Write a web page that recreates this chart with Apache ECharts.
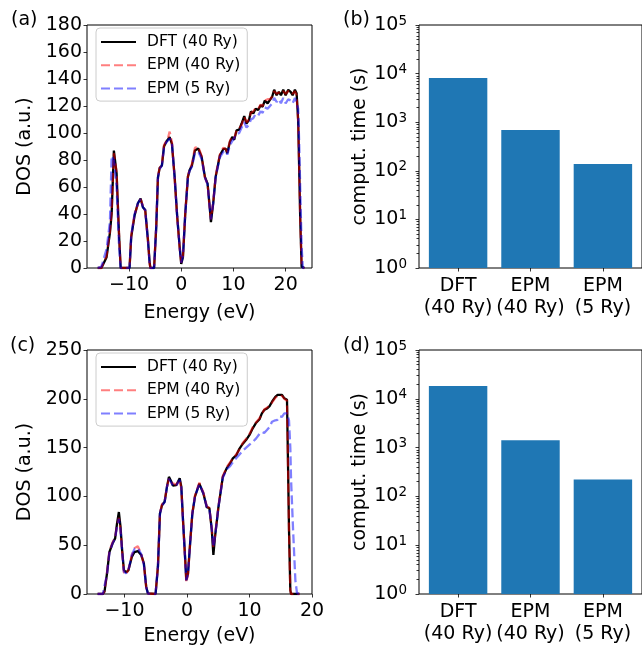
<!DOCTYPE html>
<html>
<head>
<meta charset="utf-8">
<script src="https://cdn.jsdelivr.net/npm/echarts@6/dist/echarts.min.js"></script>
<style>
  html, body { margin: 0; padding: 0; background: #fff; }
  #main { width: 642px; height: 648px; }
</style>
</head>
<body>
<div id="main"></div>
<script>
// ---- data ----
var seriesNames = ['DFT (40 Ry)', 'EPM (40 Ry)', 'EPM (5 Ry)'];

// panel (a)
var energyA = [-16, -15.3, -15.06, -14.3, -13.66, -13.33, -12.9, -12.38, -11.93, -11.6,
  -9.9, -9.58, -8.93, -8.3, -7.78, -7.34, -6.9, -6.38, -6.05, -5.9,
  -5.2, -4.79, -4.46, -4.14, -3.7, -3.3, -2.87, -2.55, -2.22, -1.78,
  -1.26, -0.77, -0.31, 0, 0.33, 0.77, 1.28, 1.61, 2.05, 2.62,
  3.26, 3.9, 4.54, 5.05, 5.5, 5.69, 6.13, 6.59, 6.97, 7.41,
  8.05, 8.5, 8.82, 9.33, 9.77, 10.15, 10.6, 11.1, 11.57, 12.07,
  12.5, 12.97, 13.35, 13.8, 14.25, 14.75, 15.2, 15.6, 16.0, 16.55,
  17.0, 17.43, 17.8, 18.27, 18.7, 19.1, 19.54, 20.0, 20.5, 20.96,
  21.34, 21.78, 22.1, 22.4, 22.6, 22.8, 23.06, 23.3, 23.6];
var dftA = [0, 0, 0.5, 8, 26, 40, 87, 70, 26, 0,
  0, 23, 39, 48, 51.5, 45, 43, 21, 4, 0,
  0, 30, 67, 74, 76, 90, 93.5, 94.5, 97, 92,
  67.5, 38, 16, 3, 8, 40, 67.5, 72.5, 76, 87,
  88.5, 82.5, 67.5, 62.5, 43, 34, 48, 67.5, 75, 83.5,
  88, 88.5, 85, 93.5, 97, 95, 102, 102.5, 107, 112.5,
  107, 109.5, 116, 114.5, 118, 117, 120.5, 119.5, 124, 122,
  124.5, 127, 132, 128, 130.5, 128, 132, 128, 132, 130.5,
  128, 132, 129.5, 109.5, 72.5, 35.5, 1, 0, 0];
var epm40A = [0, 0, 1, 9, 27, 42, 85, 71, 27, 0,
  0, 24, 40, 47, 51, 46, 42, 21, 3, 0,
  0, 31, 68, 74, 77, 91, 94, 96, 101, 93,
  66, 37, 15, 4, 9, 41, 68, 73, 77, 89,
  90, 83, 67, 62, 42, 36, 49, 68, 76, 84,
  89, 88, 86, 94, 97.5, 96, 102, 103, 106, 112,
  108, 110, 115, 116, 118.5, 118, 121, 120, 124, 125,
  125, 127, 131, 129, 130, 129, 131, 129, 131, 131,
  129, 131, 128, 108, 72, 36, 2, 0, 0];
var epm5A = [0, 1, 4, 14, 34, 83, 80, 60, 18, 0,
  0, 24, 40, 48, 51, 45, 43, 20, 3, 0,
  0, 31, 67, 73, 76, 89, 93, 94, 96, 92,
  67, 38, 16, 4, 9, 40, 67, 72, 75, 85,
  86, 81, 67, 62, 43, 36, 48, 67, 74, 82,
  86, 87, 84, 91, 94, 93, 99, 100, 104, 108,
  104, 106, 110, 111, 114, 113, 116, 115, 119, 118,
  120, 122, 126, 123, 125, 122, 126, 122, 125, 124,
  122, 126, 125, 118, 92, 58, 16, 0, 0];

// panel (c)
var energyC = [-14.3, -13.48, -13.2, -12.8, -12.42, -11.9, -11.5, -11.2, -10.9, -10.64,
  -10.38, -10.1, -9.74, -9.36, -8.83, -8.4, -7.87, -7.33, -6.9, -6.53,
  -6.26, -5.03, -4.65, -4.33, -4.0, -3.58, -3.2, -2.89, -2.5, -2.25,
  -1.72, -1.17, -0.91, -0.64, -0.37, -0.11, 0.16, 0.5, 0.85, 1.28,
  1.98, 2.62, 3.16, 3.58, 3.96, 4.22, 4.49, 5.03, 5.73, 6.37,
  6.9, 7.33, 7.86, 8.4, 8.94, 9.47, 10.0, 10.54, 11.07, 11.6,
  11.98, 12.35, 12.79, 13.21, 13.6, 14.13, 14.5, 14.82, 15.2, 15.57,
  16.0, 16.16, 16.32, 16.53, 16.65, 16.97, 17.34, 17.6, 18.0];
var dftC = [0, 0, 2.5, 21, 43, 52, 57, 72, 84, 69,
  45, 24.5, 22, 24.5, 38, 43, 44, 40, 31.5, 7.5,
  0.7, 0, 28, 82.5, 91, 94.5, 110, 120, 115, 111,
  111.5, 118.5, 110, 76, 45, 14, 21, 52, 82, 100,
  113, 103, 89, 88, 66, 40, 59, 89, 120, 129,
  134, 139, 142, 149, 154, 158, 163, 170, 175.5, 179,
  185, 188.5, 190, 192.5, 197, 202, 204, 202, 204, 200.5,
  199, 134, 66, 4, 0, 0, 0, 0, 0];
var epm40C = [0, 0, 3, 22, 44, 53, 58, 70, 78, 66,
  44, 22, 20, 25, 40, 47, 49, 41, 30, 7,
  0.5, 0, 29, 83, 92, 95, 110, 118, 114, 112,
  112, 117, 108, 75, 43, 12, 20, 52, 83, 101,
  114, 104, 90, 88, 68, 48, 60, 90, 121, 130,
  135, 139, 143, 148, 155, 159, 164, 171, 176, 180,
  184, 189, 191, 193, 196, 201, 203, 203, 203, 200,
  198, 132, 64, 4, 0, 0, 0, 0, 0];
var epm5C = [0, 0, 2, 20, 42, 52, 57, 69, 77, 66,
  44, 23, 21, 25, 40, 46, 47, 41, 30, 7,
  0.5, 0, 28, 82, 91, 94, 110, 118, 114, 111,
  111, 117, 109, 75, 44, 14, 21, 52, 82, 100,
  113, 103, 89, 87, 67, 48, 59, 89, 119, 128,
  131, 135, 139, 143, 147, 150, 153, 156, 159.5, 164,
  166, 165, 168, 171, 176.5, 178, 178.5, 182, 181.5, 185,
  185, 183, 178, 150, 117, 66, 14, 1, 0];

// panels (b) and (d): computation time in seconds
var methods = ['DFT\n(40 Ry)', 'EPM\n(40 Ry)', 'EPM\n(5 Ry)'];
var timeB = [8100, 690, 138];
var timeD = [18200, 1410, 222];

var energyTicks = [-10, 0, 10, 20];
var methodTicks = [0, 1, 2];
var minorTicks = [2, 3, 4, 5, 6, 7, 8, 9,
  20, 30, 40, 50, 60, 70, 80, 90,
  200, 300, 400, 500, 600, 700, 800, 900,
  2000, 3000, 4000, 5000, 6000, 7000, 8000, 9000,
  20000, 30000, 40000, 50000, 60000, 70000, 80000, 90000];

// ---- chart ----
var FONT = 'DejaVu Sans';
var chart = echarts.init(document.getElementById('main'));

var grids = [
  { left: 87, top: 25, width: 225, height: 243 },
  { left: 419, top: 25, width: 225, height: 243 },
  { left: 87, top: 350, width: 225, height: 244 },
  { left: 419, top: 350, width: 225, height: 244 }
];
grids.forEach(function (g) {
  g.show = true;
  g.borderColor = '#000';
  g.borderWidth = 1;
  g.backgroundColor = 'transparent';
});

var barMin = -0.54, barMax = 2.54;
var barWidth = 0.8 * 225 / (barMax - barMin);

function minus(v) {
  return v < 0 ? '\u2212' + (-v) : String(v);
}

var tickLine = { color: '#000', width: 0.8 };
var noLine = { show: false, onZero: false };

function energyXAxis(gi, min, max, gap) {
  return {
    gridIndex: gi, type: 'value', min: min, max: max,
    name: 'Energy (eV)', nameLocation: 'middle', nameGap: gap, nameMoveOverlap: false,
    nameTextStyle: { fontSize: 19, lineHeight: 19, fontFamily: FONT, color: '#000' },
    axisLine: noLine, splitLine: { show: false },
    axisTick: { customValues: energyTicks, length: 3.5, lineStyle: tickLine },
    axisLabel: { customValues: energyTicks, formatter: minus, margin: 8,
      fontSize: 19, fontFamily: FONT, color: '#000' }
  };
}

function dosYAxis(gi, max, interval) {
  return {
    gridIndex: gi, type: 'value', min: 0, max: max, interval: interval,
    name: 'DOS (a.u.)', nameLocation: 'middle', nameGap: 52, nameMoveOverlap: false,
    nameTextStyle: { fontSize: 19, lineHeight: 19, fontFamily: FONT, color: '#000' },
    axisLine: noLine, splitLine: { show: false },
    axisTick: { length: 3.5, lineStyle: tickLine },
    axisLabel: { margin: 5, fontSize: 19, fontFamily: FONT, color: '#000' }
  };
}

function methodXAxis(gi) {
  return {
    gridIndex: gi, type: 'value', min: barMin, max: barMax,
    axisLine: noLine, splitLine: { show: false },
    axisTick: { customValues: methodTicks, length: 3.5, lineStyle: tickLine },
    axisLabel: { customValues: methodTicks, margin: 7.5,
      formatter: function (v) { return methods[Math.round(v)]; },
      fontSize: 19, lineHeight: 21.5, fontFamily: FONT, color: '#000' }
  };
}

function timeYAxis(gi) {
  return {
    gridIndex: gi, type: 'log', logBase: 10, min: 1, max: 100000,
    name: 'comput. time (s)', nameLocation: 'middle', nameGap: 49, nameMoveOverlap: false,
    nameTextStyle: { fontSize: 19, lineHeight: 19, fontFamily: FONT, color: '#000' },
    axisLine: noLine, splitLine: { show: false },
    axisTick: { length: 3.5, lineStyle: tickLine },
    axisLabel: {
      margin: 12,
      formatter: function (v) {
        return '{b|10}{s|' + Math.round(Math.log10(v)) + '}';
      },
      rich: {
        b: { fontSize: 19, lineHeight: 22, fontFamily: FONT, color: '#000' },
        s: { fontSize: 13.5, lineHeight: 14, verticalAlign: 'top', fontFamily: FONT, color: '#000' }
      }
    }
  };
}

// minor ticks of the log axis: an unlabeled axis in decades over the same grid
function minorTickAxis(gi) {
  var decades = minorTicks.map(function (v) { return Math.log10(v); });
  return {
    gridIndex: gi, type: 'value', min: 0, max: 5, position: 'left',
    axisLine: noLine, splitLine: { show: false },
    axisLabel: { show: false },
    axisTick: { customValues: decades, length: 2.5, lineStyle: { color: '#000', width: 0.8 } }
  };
}

var lineStyles = [
  { color: '#000000', width: 2.3 },
  { color: 'rgba(255,0,0,0.5)', width: 2.3, type: [9, 4] },
  { color: 'rgba(0,0,255,0.5)', width: 2.3, type: [9, 4] }
];

function dosSeries(gi, energy, curves) {
  return curves.map(function (ys, k) {
    return {
      name: seriesNames[k], type: 'line', xAxisIndex: gi, yAxisIndex: gi,
      symbol: 'none', showSymbol: false, silent: true,
      lineStyle: lineStyles[k],
      itemStyle: { color: lineStyles[k].color },
      data: energy.map(function (e, i) { return [e, ys[i]]; })
    };
  });
}

function timeSeries(gi, times) {
  return {
    type: 'bar', xAxisIndex: gi, yAxisIndex: gi, barWidth: barWidth,
    itemStyle: { color: '#1f77b4' }, silent: true,
    data: times.map(function (t, i) { return [i, t]; })
  };
}

function legendAt(top) {
  return {
    data: seriesNames, orient: 'vertical', left: 96, top: top,
    itemWidth: 35, itemHeight: 14, itemGap: 7.3,
    padding: [6, 7, 4.5, 4],
    backgroundColor: 'rgba(255,255,255,0.8)',
    borderColor: '#cccccc', borderWidth: 1, borderRadius: 4,
    selectedMode: false,
    itemStyle: { color: 'rgba(0,0,0,0)', borderWidth: 0, opacity: 0 },
    textStyle: { fontSize: 15.5, lineHeight: 16, fontFamily: FONT, color: '#000',
      padding: [0, 0, 0, 6] }
  };
}

function panelLabel(text, x, y) {
  return {
    type: 'text', x: x, y: y,
    style: { text: text, font: '19px "DejaVu Sans"', fill: '#000', verticalAlign: 'middle' }
  };
}

var option = {
  animation: false,
  textStyle: { fontFamily: FONT, color: '#000' },
  grid: grids,
  xAxis: [
    energyXAxis(0, -18.05, 25.05, 36),
    methodXAxis(1),
    energyXAxis(2, -16, 20, 33),
    methodXAxis(3)
  ],
  yAxis: [
    dosYAxis(0, 180, 20),
    timeYAxis(1),
    dosYAxis(2, 250, 50),
    timeYAxis(3),
    minorTickAxis(1),
    minorTickAxis(3)
  ],
  legend: [legendAt(28), legendAt(353)],
  graphic: [
    panelLabel('(a)', 11, 20),
    panelLabel('(b)', 343, 20),
    panelLabel('(c)', 10, 346),
    panelLabel('(d)', 343, 346)
  ],
  series: [].concat(
    dosSeries(0, energyA, [dftA, epm40A, epm5A]),
    [timeSeries(1, timeB)],
    dosSeries(2, energyC, [dftC, epm40C, epm5C]),
    [timeSeries(3, timeD)]
  )
};

chart.setOption(option);
</script>
</body>
</html>
